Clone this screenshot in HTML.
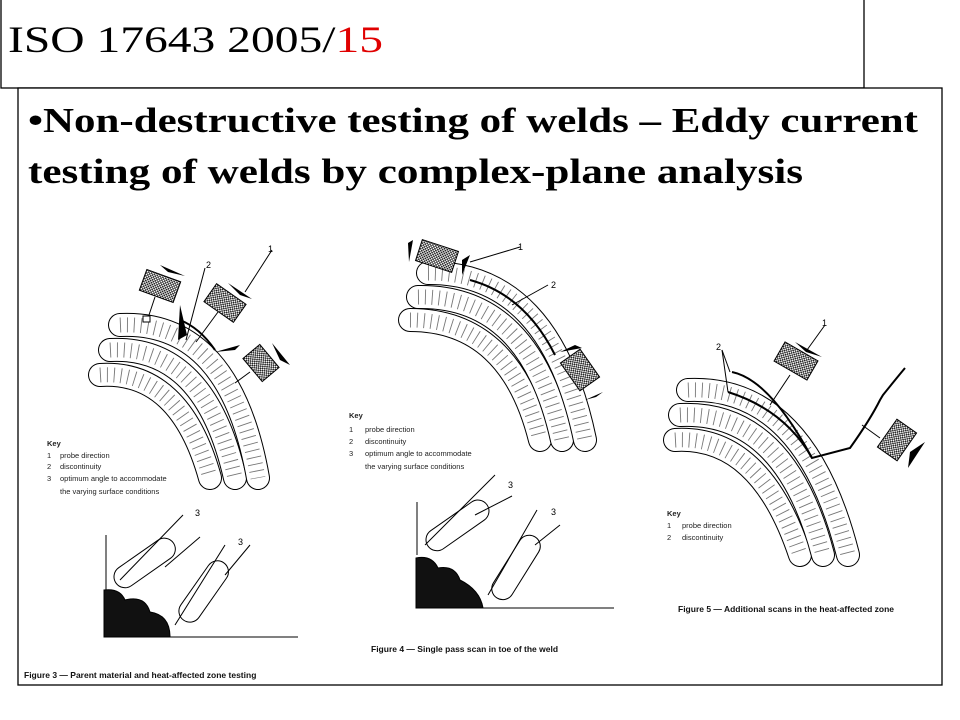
<!DOCTYPE html>
<html><head><meta charset="utf-8"><style>
body{margin:0;width:960px;height:720px;background:#fff;overflow:hidden;position:relative}
svg{position:absolute;left:0;top:0}
.sc{stroke:#777;stroke-width:15;stroke-dasharray:0.9 6;stroke-linecap:butt;fill:none}
.ob{stroke:#000;stroke-width:24;fill:none;stroke-linecap:round}
.ib{stroke:#fff;stroke-width:22;fill:none;stroke-linecap:round}
</style></head><body>
<svg width="960" height="720" viewBox="0 0 960 720" xmlns="http://www.w3.org/2000/svg">
<defs>
<pattern id="hx" width="3" height="3" patternUnits="userSpaceOnUse"><rect width="3" height="3" fill="#fff"/><rect width="1.6" height="1.6" fill="#222"/><rect x="1.5" y="1.5" width="1.5" height="1.5" fill="#222"/></pattern>
</defs>
<rect x="1" y="-2" width="863" height="90" fill="none" stroke="#000" stroke-width="1.3"/>
<text x="8" y="52" font-family="Liberation Serif, serif" font-size="37" fill="#000" textLength="375" lengthAdjust="spacingAndGlyphs">ISO 17643 2005/<tspan fill="#e00000">15</tspan></text>
<rect x="18" y="88" width="924" height="597" fill="#fff" stroke="#000" stroke-width="1.3"/>
<text x="28" y="132" font-family="Liberation Serif, serif" font-size="35" font-weight="bold" textLength="890" lengthAdjust="spacingAndGlyphs">•Non-destructive testing of welds – Eddy current</text>
<text x="28" y="183" font-family="Liberation Serif, serif" font-size="35" font-weight="bold" textLength="775" lengthAdjust="spacingAndGlyphs">testing of welds by complex-plane analysis</text>

<!-- Fig3 beads -->
<g>
<path class="ob" d="M100,375 Q180,370 210,478"/><path class="ib" d="M100,375 Q180,370 210,478"/><path class="sc" d="M100,375 Q180,370 210,478"/>
<path class="ob" d="M110,350 Q205,345 235,478"/><path class="ib" d="M110,350 Q205,345 235,478"/><path class="sc" d="M110,350 Q205,345 235,478"/>
<path class="ob" d="M120,325 Q230,320 258,478"/><path class="ib" d="M120,325 Q230,320 258,478"/><path class="sc" d="M120,325 Q230,320 258,478"/>
</g>
<!-- Fig4 beads -->
<g>
<path class="ob" d="M410,320 Q510,320 540,440"/><path class="ib" d="M410,320 Q510,320 540,440"/><path class="sc" d="M410,320 Q510,320 540,440"/>
<path class="ob" d="M418,297 Q530,295 562,440"/><path class="ib" d="M418,297 Q530,295 562,440"/><path class="sc" d="M418,297 Q530,295 562,440"/>
<path class="ob" d="M428,273 Q550,272 585,440"/><path class="ib" d="M428,273 Q550,272 585,440"/><path class="sc" d="M428,273 Q550,272 585,440"/>
</g>
<!-- Fig5 beads -->
<g>
<path class="ob" d="M675,440 Q760,435 800,555"/><path class="ib" d="M675,440 Q760,435 800,555"/><path class="sc" d="M675,440 Q760,435 800,555"/>
<path class="ob" d="M680,415 Q785,410 823,555"/><path class="ib" d="M680,415 Q785,410 823,555"/><path class="sc" d="M680,415 Q785,410 823,555"/>
<path class="ob" d="M688,390 Q805,385 848,555"/><path class="ib" d="M688,390 Q805,385 848,555"/><path class="sc" d="M688,390 Q805,385 848,555"/>
</g>

<!-- Fig3 probes -->
<g stroke="#000" stroke-width="1">
<rect x="142" y="275" width="36" height="22" fill="url(#hx)" transform="rotate(20 160 286)"/>
<line x1="155" y1="297" x2="148" y2="318"/><rect x="143" y="316" width="7" height="6" fill="#fff"/>
<rect x="207" y="292" width="36" height="22" fill="url(#hx)" transform="rotate(35 225 303)"/>
<line x1="218" y1="312" x2="196" y2="342"/>
<rect x="246" y="352" width="30" height="22" fill="url(#hx)" transform="rotate(50 261 363)"/>
<line x1="250" y1="372" x2="235" y2="383"/>
<line x1="272" y1="250" x2="245" y2="292"/><line x1="205" y1="268" x2="186" y2="340"/>
</g>
<g fill="#000">
<polygon points="160,265 185,276 168,272"/><polygon points="228,283 252,299 240,295"/>
<polygon points="180,305 187,335 178,340"/><polygon points="215,352 240,345 235,350"/><polygon points="272,343 290,365 280,360"/>
</g>
<text x="268" y="252" font-family="Liberation Sans,sans-serif" font-size="9">1</text>
<text x="206" y="268" font-family="Liberation Sans,sans-serif" font-size="9">2</text>
<path d="M180,320 Q200,328 215,350" fill="none" stroke="#000" stroke-width="2"/>

<!-- Fig4 probes -->
<g stroke="#000" stroke-width="1">
<rect x="418" y="245" width="38" height="22" fill="url(#hx)" transform="rotate(18 437 256)"/>
<rect x="563" y="358" width="34" height="24" fill="url(#hx)" transform="rotate(55 580 370)"/>
<line x1="520" y1="247" x2="470" y2="262"/><line x1="548" y1="285" x2="512" y2="305"/>
</g>
<path d="M470,280 Q525,295 555,355" fill="none" stroke="#000" stroke-width="2"/>
<g fill="#000"><polygon points="408,243 413,240 409,262"/><polygon points="462,260 470,255 462,275"/><polygon points="560,352 575,345 582,348"/><polygon points="585,400 603,392 596,397"/></g>
<text x="518" y="250" font-family="Liberation Sans,sans-serif" font-size="9">1</text>
<text x="551" y="288" font-family="Liberation Sans,sans-serif" font-size="9">2</text>

<!-- Fig5 -->
<g stroke="#000" stroke-width="1">
<rect x="777" y="350" width="38" height="22" fill="url(#hx)" transform="rotate(30 796 361)"/>
<line x1="790" y1="375" x2="770" y2="405"/>
<rect x="880" y="428" width="34" height="24" fill="url(#hx)" transform="rotate(-55 897 440)"/>
<line x1="880" y1="438" x2="862" y2="425"/>
<line x1="825" y1="325" x2="807" y2="350"/>
<line x1="722" y1="350" x2="730" y2="372"/><line x1="722" y1="350" x2="728" y2="392"/>
</g>
<path d="M732,372 Q770,380 812,458 L850,448 Q870,420 880,400 L883,395 Q895,380 905,368" fill="none" stroke="#000" stroke-width="2"/>
<path d="M728,392 Q785,410 812,458" fill="none" stroke="#000" stroke-width="2"/>
<g fill="#000"><polygon points="795,342 822,357 806,352"/><polygon points="925,442 908,468 910,452"/></g>
<text x="822" y="326" font-family="Liberation Sans,sans-serif" font-size="9">1</text>
<text x="716" y="350" font-family="Liberation Sans,sans-serif" font-size="9">2</text>

<!-- Keys -->
<g font-family="Liberation Sans,sans-serif" font-size="7.5" fill="#222">
<text x="47" y="446" font-weight="bold">Key</text>
<text x="47" y="458">1</text><text x="60" y="458">probe direction</text>
<text x="47" y="469">2</text><text x="60" y="469">discontinuity</text>
<text x="47" y="481">3</text><text x="60" y="481">optimum angle to accommodate</text>
<text x="60" y="494">the varying surface conditions</text>
<text x="349" y="418" font-weight="bold">Key</text>
<text x="349" y="432">1</text><text x="365" y="432">probe direction</text>
<text x="349" y="444">2</text><text x="365" y="444">discontinuity</text>
<text x="349" y="456">3</text><text x="365" y="456">optimum angle to accommodate</text>
<text x="365" y="469">the varying surface conditions</text>
<text x="667" y="516" font-weight="bold">Key</text>
<text x="667" y="528">1</text><text x="682" y="528">probe direction</text>
<text x="667" y="540">2</text><text x="682" y="540">discontinuity</text>
</g>
<g font-family="Liberation Sans,sans-serif" font-size="8.5" font-weight="bold" fill="#111">
<text x="24" y="678">Figure 3 — Parent material and heat-affected zone testing</text>
<text x="371" y="652">Figure 4 — Single pass scan in toe of the weld</text>
<text x="678" y="612">Figure 5 — Additional scans in the heat-affected zone</text>
</g>

<!-- Fig3 bottom weld -->
<g stroke="#000" stroke-width="1" fill="none">
<line x1="106" y1="535" x2="106" y2="590"/><line x1="168" y1="637" x2="298" y2="637"/>
<path d="M104,590 Q120,588 125,600 Q145,595 150,612 Q170,615 170,637 L104,637 Z" fill="#111"/>
<g transform="rotate(-35 140 565)"><rect x="110" y="555" width="70" height="22" rx="11" fill="#fff"/></g>
<g transform="rotate(-55 200 595)"><rect x="170" y="585" width="70" height="22" rx="11" fill="#fff"/></g>
<line x1="120" y1="580" x2="183" y2="515"/><line x1="165" y1="567" x2="200" y2="537"/>
<line x1="175" y1="625" x2="225" y2="545"/><line x1="225" y1="575" x2="250" y2="545"/>
</g>
<g font-family="Liberation Sans,sans-serif" font-size="9"><text x="195" y="516">3</text><text x="238" y="545">3</text></g>

<!-- Fig4 bottom weld -->
<g stroke="#000" stroke-width="1" fill="none">
<line x1="417" y1="502" x2="417" y2="555"/><line x1="480" y1="608" x2="614" y2="608"/>
<path d="M416,558 Q432,555 438,568 Q455,565 460,580 Q480,590 483,608 L416,608 Z" fill="#111"/>
<g transform="rotate(-35 452 528)"><rect x="422" y="518" width="72" height="22" rx="11" fill="#fff"/></g>
<g transform="rotate(-58 512 572)"><rect x="482" y="562" width="72" height="22" rx="11" fill="#fff"/></g>
<line x1="425" y1="545" x2="495" y2="475"/><line x1="475" y1="515" x2="512" y2="496"/>
<line x1="488" y1="595" x2="537" y2="510"/><line x1="535" y1="545" x2="560" y2="525"/>
</g>
<g font-family="Liberation Sans,sans-serif" font-size="9"><text x="508" y="488">3</text><text x="551" y="515">3</text></g>
</svg>
</body></html>
